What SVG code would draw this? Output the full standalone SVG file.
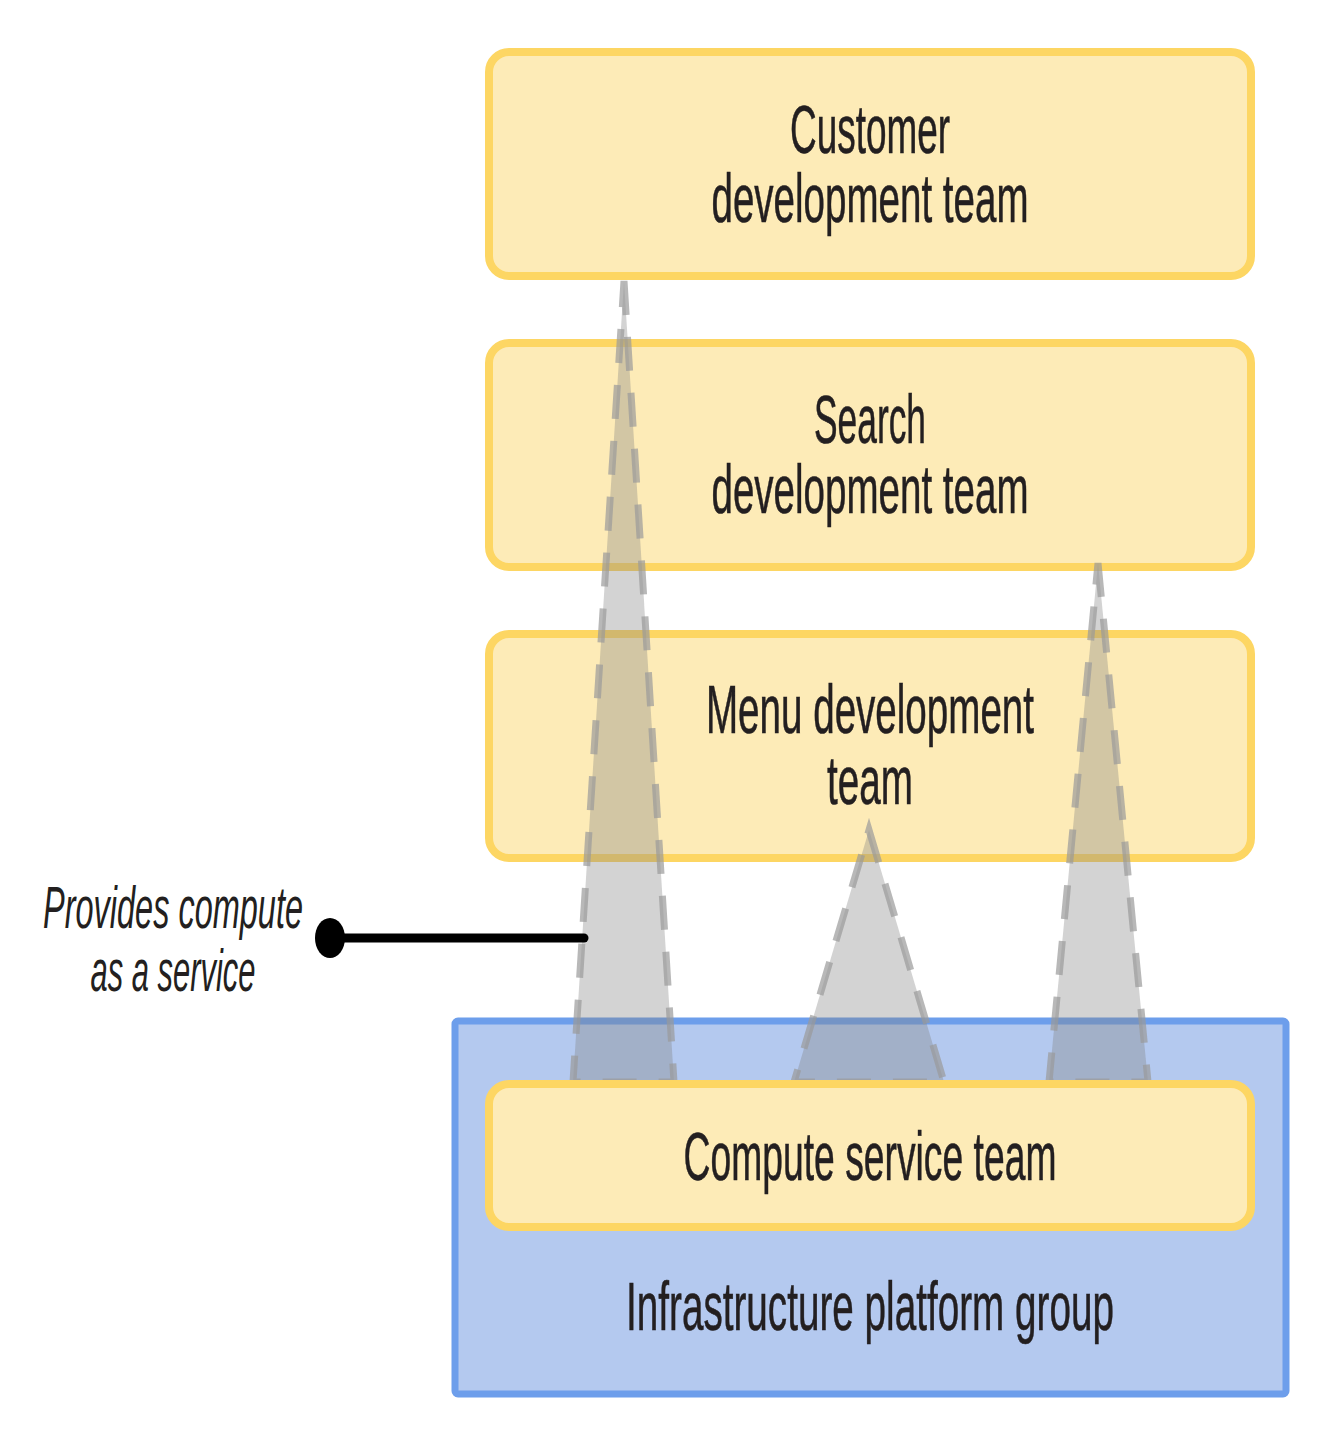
<svg xmlns="http://www.w3.org/2000/svg" width="1322" height="1438" viewBox="0 0 1322 1438">
<style>
.team{fill:#fdebb7;stroke:#fdd663;stroke-width:8}
.grp{fill:#b4c9ef;stroke:#6d9eeb;stroke-width:7}
.lbl{font-family:"Liberation Sans",Arial,sans-serif;font-size:68px;fill:#231f20;text-anchor:middle;stroke:#231f20;stroke-width:0.6}
.note{font-family:"Liberation Sans",Arial,sans-serif;font-size:60px;font-style:italic;fill:#231f20;text-anchor:middle}
.cone{fill:#808080;fill-opacity:0.35;stroke:#9a9a9a;stroke-opacity:0.7;stroke-width:7;stroke-dasharray:34 22}
</style>
<rect width="1322" height="1438" fill="#ffffff"/>
<g id="customer">
<rect class="team" x="489" y="52" width="762" height="224" rx="20"/>
<text class="lbl" x="870" y="153" textLength="160" lengthAdjust="spacingAndGlyphs">Customer</text>
<text class="lbl" x="870" y="222" textLength="317" lengthAdjust="spacingAndGlyphs">development team</text>
</g>
<g id="search">
<rect class="team" x="489" y="343" width="762" height="224" rx="20"/>
<text class="lbl" x="870" y="443" textLength="112" lengthAdjust="spacingAndGlyphs">Search</text>
<text class="lbl" x="870" y="513" textLength="317" lengthAdjust="spacingAndGlyphs">development team</text>
</g>
<g id="menu">
<rect class="team" x="489" y="634" width="762" height="224" rx="20"/>
<text class="lbl" x="870" y="733" textLength="328" lengthAdjust="spacingAndGlyphs">Menu development</text>
<text class="lbl" x="870" y="804" textLength="86" lengthAdjust="spacingAndGlyphs">team</text>
</g>
<g id="infrastructure">
<rect class="grp" x="455" y="1021" width="831" height="373" rx="3"/>
<text class="lbl" x="870" y="1330" textLength="488" lengthAdjust="spacingAndGlyphs">Infrastructure platform group</text>
</g>
<g id="connectors">
<polygon class="cone" points="624,281 674,1082 573,1082"/>
<polygon class="cone" points="869,830 944,1082 794,1082"/>
<polygon class="cone" points="1098,563 1148,1082 1049,1082"/>
<line x1="330" y1="938" x2="584" y2="938" stroke="#000" stroke-width="9" stroke-linecap="round"/>
<ellipse cx="330" cy="938" rx="15" ry="20" fill="#000"/>
</g>
<g id="compute">
<rect class="team" x="489" y="1084" width="762" height="143" rx="20"/>
<text class="lbl" x="870" y="1180" textLength="373" lengthAdjust="spacingAndGlyphs">Compute service team</text>
</g>
<g id="note">
<text class="note" x="173" y="928" textLength="260" lengthAdjust="spacingAndGlyphs">Provides compute</text>
<text class="note" x="173" y="991" textLength="165" lengthAdjust="spacingAndGlyphs">as a service</text>
</g>
</svg>
